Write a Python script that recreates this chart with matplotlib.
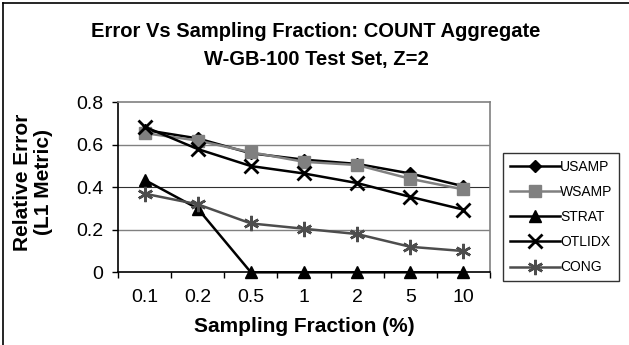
import numpy as np
import matplotlib
matplotlib.use('Agg')
import matplotlib.pyplot as plt
from matplotlib.lines import Line2D

plt.rcParams['font.family'] = ['Liberation Sans', 'DejaVu Sans']

fractions = ['0.1', '0.2', '0.5', '1', '2', '5', '10']
usamp = [0.67, 0.63, 0.56, 0.53, 0.51, 0.465, 0.405]
wsamp = [0.655, 0.62, 0.565, 0.52, 0.505, 0.44, 0.39]
strat = [0.435, 0.30, 0.0, 0.0, 0.0, 0.0, 0.0]
otlidx = [0.685, 0.58, 0.50, 0.465, 0.42, 0.355, 0.295]
cong = [0.37, 0.32, 0.23, 0.205, 0.18, 0.12, 0.10]

fig = plt.figure(figsize=(6.29, 3.45), dpi=100)
ax = fig.add_axes([118/629, 72.7/345, 372/629, 170/345])

x = np.arange(len(fractions))
ax.plot(x, usamp, color='black', lw=1.8, marker='D', ms=6, label='USAMP')
ax.plot(x, wsamp, color='#808080', lw=1.8, marker='s', ms=8, label='WSAMP')
ax.plot(x, strat, color='black', lw=1.8, marker='^', ms=9, label='STRAT', clip_on=False)
ax.plot(x, otlidx, color='black', lw=1.8, marker='x', ms=10, mew=2, label='OTLIDX')
ax.plot(x, cong, color='#4d4d4d', lw=1.8, marker=(6, 2, 0), ms=11, mew=1.8, label='CONG')

ax.set_xlim(-0.5, 6.5)
ax.set_ylim(0, 0.8)
ax.set_yticks([0, 0.2, 0.4, 0.6, 0.8])
ax.set_yticklabels(['0', '0.2', '0.4', '0.6', '0.8'], fontsize=14)
ax.set_xticks(x)
ax.set_xticklabels(fractions, fontsize=14)
ax.set_xticks(np.arange(-0.5, 7, 1), minor=True)
ax.tick_params(axis='x', which='major', length=0, pad=12)
ax.tick_params(axis='x', which='minor', length=4.5, width=1, direction='out')
ax.tick_params(axis='y', length=4.5, width=1, direction='out', pad=6)

for yv in [0.2, 0.6]:
    ax.axhline(yv, color='#808080', lw=1, zorder=0)
ax.axhline(0.4, color='#303030', lw=0.8, zorder=0)

ax.spines['left'].set_color('black')
ax.spines['bottom'].set_color('black')
ax.spines['top'].set_color('#808080')
ax.spines['right'].set_color('#808080')
for s in ax.spines.values():
    s.set_linewidth(1.2)

ax.set_xlabel('Sampling Fraction (%)', fontsize=15, fontweight='bold', va='center')
ax.xaxis.set_label_coords(0.5, (272.3 - 326) / 170)
ax.set_ylabel('Relative Error\n(L1 Metric)', fontsize=15, fontweight='bold', va='center',
              linespacing=1.15)
ax.yaxis.set_label_coords((33 - 118) / 372, (272.3 - 182) / 170)

fig.text(316/629, 1 - 37/345, 'Error Vs Sampling Fraction: COUNT Aggregate',
         ha='center', va='baseline', fontsize=14.5, fontweight='bold')
fig.text(316/629, 1 - 65/345, 'W-GB-100 Test Set, Z=2',
         ha='center', va='baseline', fontsize=14.5, fontweight='bold')

leg = fig.legend(loc='upper left', bbox_to_anchor=(503/629, 1 - 153/345),
                 frameon=True, fancybox=False, fontsize=10, handlelength=3.6,
                 labelspacing=0.8, borderpad=0.5, handletextpad=0.0, borderaxespad=0)
leg.get_frame().set_edgecolor('black')
leg.get_frame().set_linewidth(1)

# chart border (top and left only visible)
fig.add_artist(Line2D([3.5/629, 3.5/629], [0, 1 - 2.5/345], color='black', lw=1.2))
fig.add_artist(Line2D([3.5/629, 1], [1 - 2.5/345, 1 - 2.5/345], color='black', lw=1.2))

fig.savefig('out.png', dpi=100)
